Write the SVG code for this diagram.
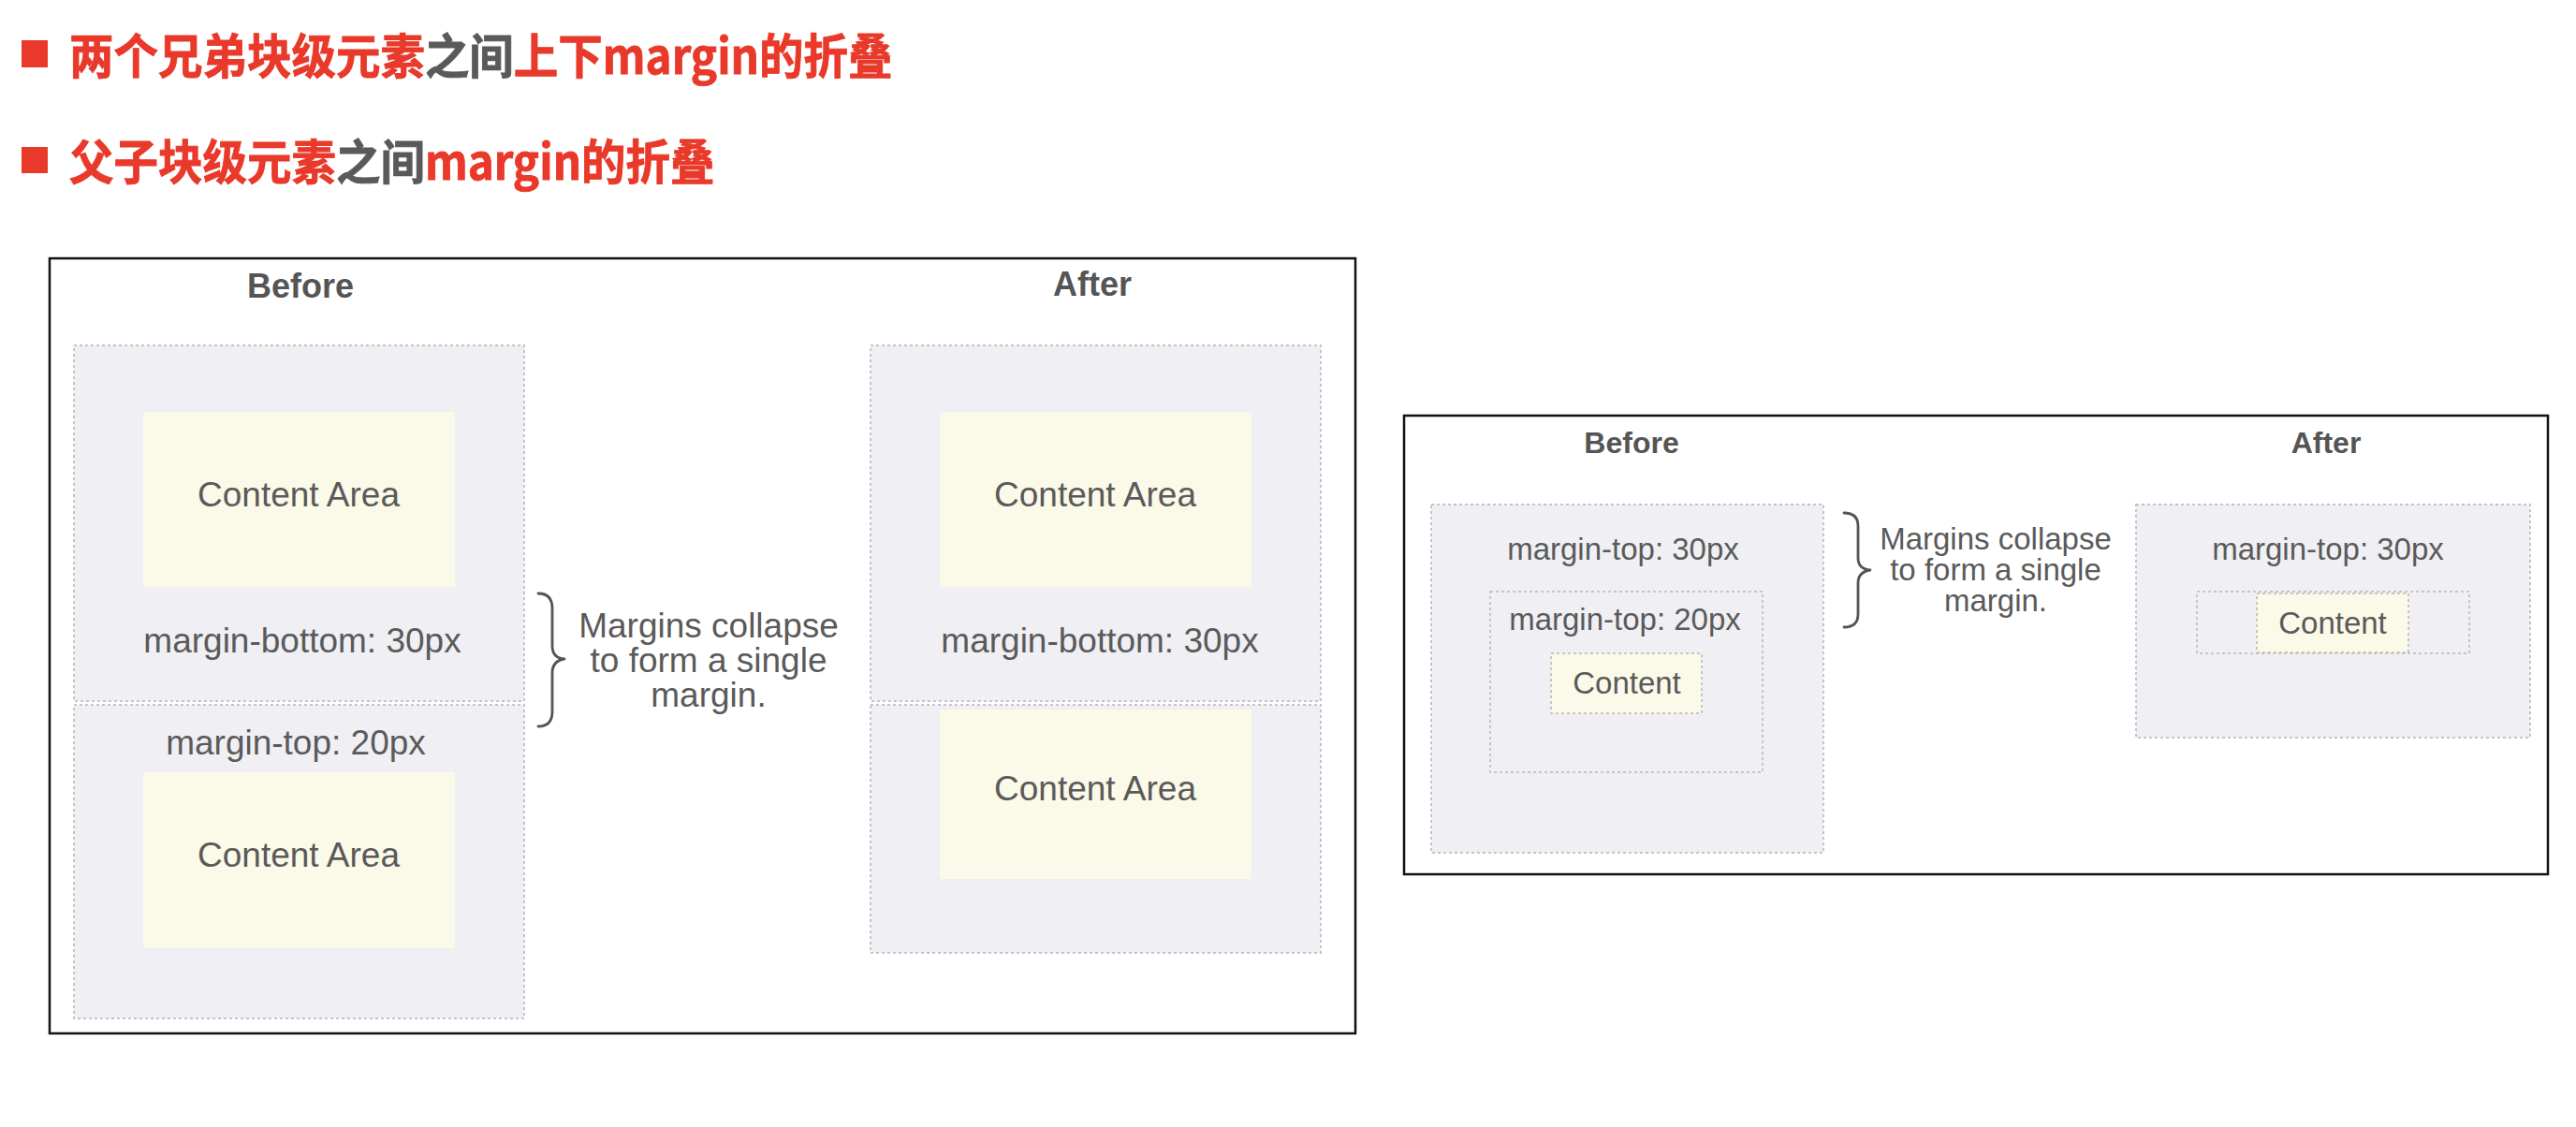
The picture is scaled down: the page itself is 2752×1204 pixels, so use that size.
<svg xmlns="http://www.w3.org/2000/svg" width="2752" height="1204" viewBox="0 0 2752 1204">
<style>
.title{font-family:"Noto Sans CJK SC","Liberation Sans",sans-serif;font-weight:700;font-size:47.5px;fill:#e8392a;stroke:#e8392a;stroke-width:0.8}
.gray{fill:#5a5a5a;stroke:#5a5a5a}
.frame{fill:#ffffff;stroke:#111;stroke-width:2.5}
.mbox{fill:#efeff4;stroke:#c4c4ca;stroke-width:2;stroke-dasharray:3 3}
.cbox{fill:#fbf9e8}
.cboxd{fill:#fbf9e8;stroke:#c9c7b8;stroke-width:2;stroke-dasharray:3 3}
.hd{font-family:"Liberation Sans",Arial,sans-serif;font-weight:700;fill:#555;text-anchor:middle}
.t{font-family:"Liberation Sans",Arial,sans-serif;fill:#5a5a5a;text-anchor:middle}
.brace{fill:none;stroke:#555;stroke-width:2.8;stroke-linecap:round;stroke-linejoin:round}
</style>
<rect width="2752" height="1204" fill="#ffffff"/>

<g id="titles">
<rect x="23" y="43" width="28" height="29" fill="#e8392a"/>
<text class="title" transform="translate(74,78.5) scale(1,1.08)" x="0" y="0">两个兄弟块级元素<tspan class="gray">之间</tspan>上下margin的折叠</text>
<rect x="23" y="157" width="28" height="28" fill="#e8392a"/>
<text class="title" transform="translate(74,191.5) scale(1,1.08)" x="0" y="0">父子块级元素<tspan class="gray">之间</tspan>margin的折叠</text>
</g>

<g id="panel-siblings">
<rect class="frame" x="53" y="276" width="1395" height="828"/>
<text class="hd" x="321" y="318" font-size="36">Before</text>
<text class="hd" x="1167" y="316" font-size="36">After</text>

<g id="before-box1">
<rect class="mbox" x="79" y="369" width="481" height="380"/>
<rect class="cbox" x="153" y="440" width="333" height="187"/>
<text class="t" x="319" y="541" font-size="37">Content Area</text>
<text class="t" x="323" y="697" font-size="37">margin-bottom: 30px</text>
</g>
<g id="before-box2">
<rect class="mbox" x="79" y="753" width="481" height="335"/>
<text class="t" x="316" y="806" font-size="37">margin-top: 20px</text>
<rect class="cbox" x="153" y="825" width="333" height="188"/>
<text class="t" x="319" y="926" font-size="37">Content Area</text>
</g>

<g id="after-box1">
<rect class="mbox" x="930" y="369" width="481" height="380"/>
<rect class="cbox" x="1004" y="440" width="333" height="187"/>
<text class="t" x="1170" y="541" font-size="37">Content Area</text>
<text class="t" x="1175" y="697" font-size="37">margin-bottom: 30px</text>
</g>
<g id="after-box2">
<rect class="mbox" x="930" y="753" width="481" height="265"/>
<rect class="cbox" x="1004" y="758" width="333" height="181"/>
<text class="t" x="1170" y="855" font-size="37">Content Area</text>
</g>

<g id="note1">
<text class="t" x="757" y="681" font-size="37">Margins collapse</text>
<text class="t" x="757" y="718" font-size="37">to form a single</text>
<text class="t" x="757" y="755" font-size="37">margin.</text>
</g>
</g>

<g id="panel-parent-child">
<rect class="frame" x="1500" y="444" width="1222" height="490"/>
<text class="hd" x="1743" y="484" font-size="32">Before</text>
<text class="hd" x="2485" y="484" font-size="32">After</text>

<g id="pc-before">
<rect class="mbox" x="1529" y="539" width="419" height="372"/>
<text class="t" x="1734" y="598" font-size="33">margin-top: 30px</text>
<rect class="mbox" x="1592" y="632" width="291" height="193"/>
<text class="t" x="1736" y="673" font-size="33">margin-top: 20px</text>
<rect class="cboxd" x="1657" y="698" width="161" height="64"/>
<text class="t" x="1738" y="741" font-size="33">Content</text>
</g>

<g id="pc-after">
<rect class="mbox" x="2282" y="539" width="421" height="249"/>
<text class="t" x="2487" y="598" font-size="33">margin-top: 30px</text>
<rect class="mbox" x="2347" y="632" width="291" height="66"/>
<rect class="cboxd" x="2411" y="634" width="162" height="63"/>
<text class="t" x="2492" y="677" font-size="33">Content</text>
</g>

<g id="note2">
<text class="t" x="2132" y="587" font-size="33">Margins collapse</text>
<text class="t" x="2132" y="620" font-size="33">to form a single</text>
<text class="t" x="2132" y="653" font-size="33">margin.</text>
</g>
</g>

<g id="connectors">
<path class="brace" d="M575,634 Q590,634 590,650 L590,690 Q590,703 603,704 Q590,706 590,719 L590,760 Q590,776 575,776"/>
<path class="brace" d="M1970,548 Q1985,548 1985,562 L1985,596 Q1985,608 1998,609 Q1985,611 1985,623 L1985,656 Q1985,670 1970,670"/>
</g>
</svg>
